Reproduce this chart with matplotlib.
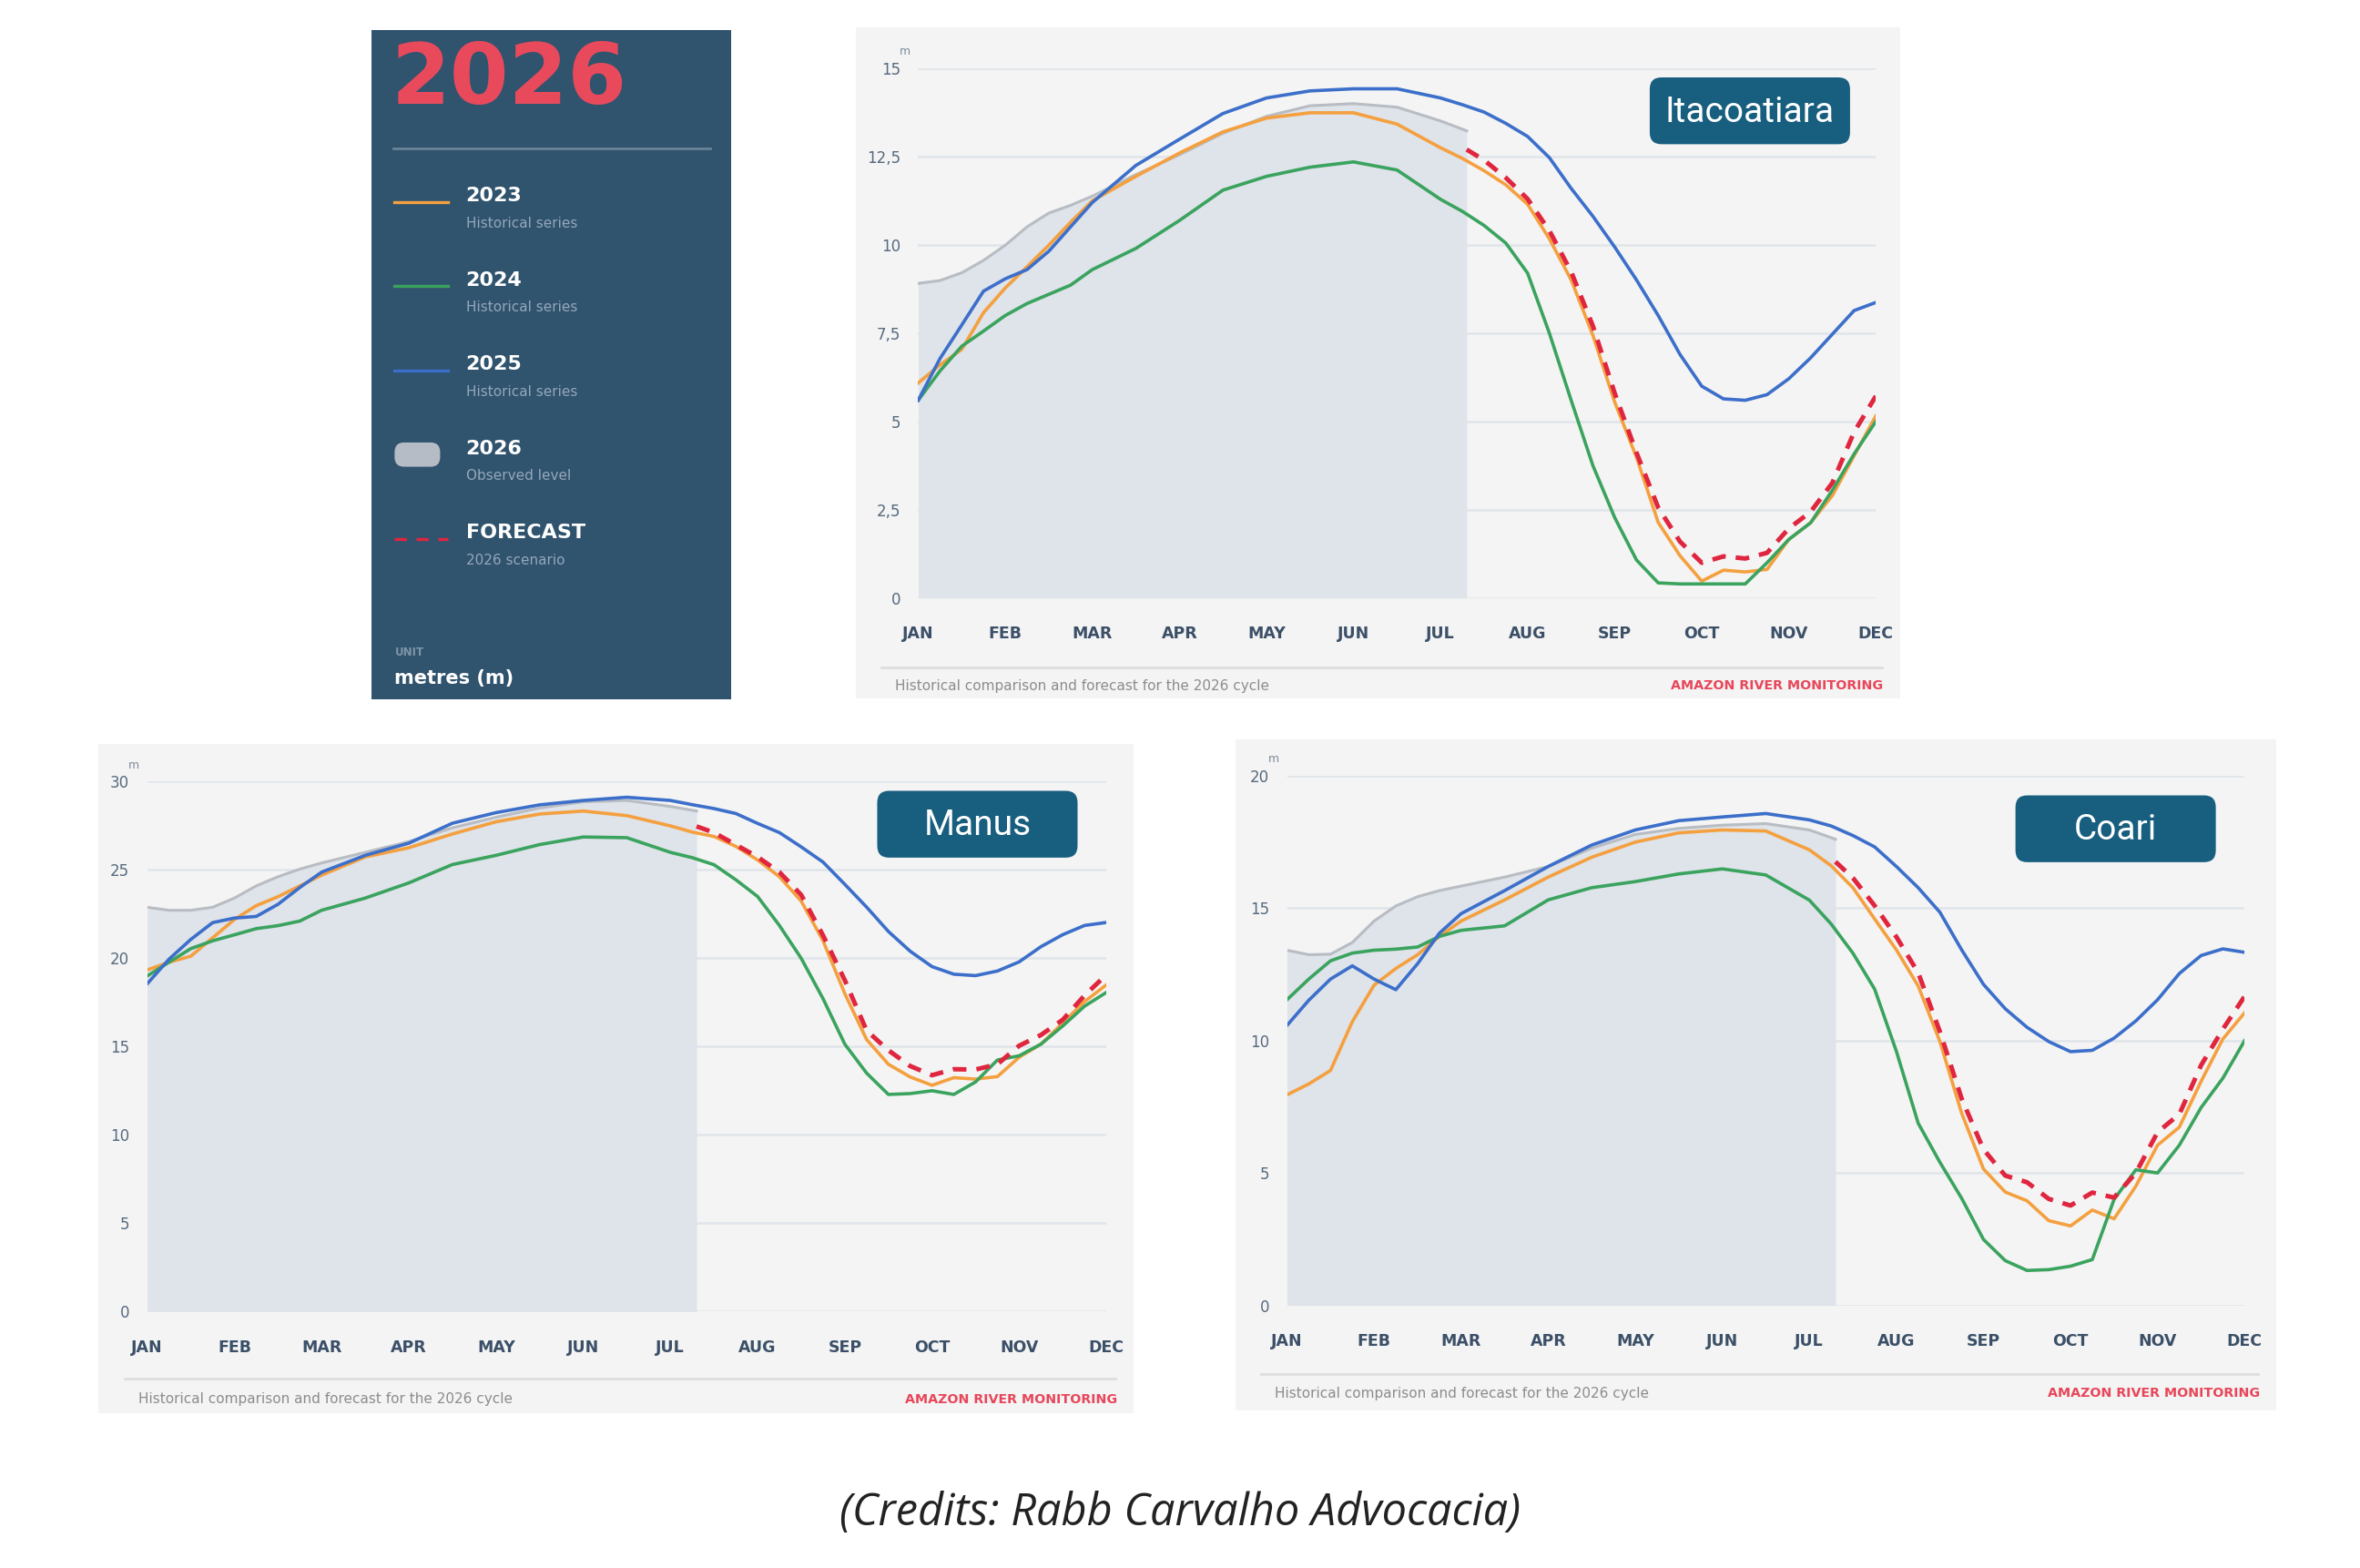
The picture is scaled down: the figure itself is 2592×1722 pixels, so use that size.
import matplotlib
matplotlib.use('Agg')
import matplotlib.pyplot as plt
from matplotlib.patches import Rectangle, FancyBboxPatch
from matplotlib.lines import Line2D

# ---- data (river level, metres; x = month index, JAN = 0) ----
MONTHS = ['JAN', 'FEB', 'MAR', 'APR', 'MAY', 'JUN', 'JUL', 'AUG', 'SEP', 'OCT', 'NOV', 'DEC']

X_LEFT = [0, 0.25, 0.5, 0.75, 1, 1.25, 1.5, 1.75, 2, 2.5, 3, 3.5, 4, 4.5, 5, 5.5, 6]
X_RIGHT = [6.5, 6.75, 7, 7.25, 7.5, 7.75, 8, 8.25, 8.5, 8.75, 9, 9.25, 9.5, 9.75, 10, 10.25, 10.5, 10.75, 11]
X_HIST = X_LEFT + [6.25] + X_RIGHT
X_OBS = X_LEFT + [6.3]
X_FC = [6.3] + X_RIGHT

# Itacoatiara
ita_2023 = [6.09, 6.6, 7.04, 8.08, 8.78, 9.38, 9.99, 10.64, 11.25, 11.94, 12.6, 13.2, 13.59, 13.74, 13.74, 13.42, 12.75,
            12.45,
            12.1, 11.7, 11.15, 10.17, 9.01, 7.44, 5.55, 3.99, 2.14, 1.2, 0.48, 0.79, 0.74, 0.81, 1.66, 2.13, 2.9, 4.03, 5.16]
ita_2024 = [5.6, 6.43, 7.13, 7.56, 8.0, 8.34, 8.6, 8.86, 9.3, 9.9, 10.69, 11.55, 11.94, 12.2, 12.35, 12.12, 11.29,
            10.95,
            10.55, 10.05, 9.2, 7.5, 5.6, 3.75, 2.28, 1.08, 0.43, 0.4, 0.4, 0.4, 0.4, 1.0, 1.66, 2.13, 3.05, 4.08, 5.0]
ita_2025 = [5.6, 6.78, 7.73, 8.69, 9.04, 9.3, 9.82, 10.51, 11.2, 12.25, 12.99, 13.72, 14.16, 14.36, 14.42, 14.42, 14.16,
            13.97,
            13.76, 13.44, 13.07, 12.47, 11.6, 10.81, 9.94, 9.01, 8.0, 6.9, 6.0, 5.64, 5.6, 5.76, 6.21, 6.8, 7.47, 8.14, 8.37]
ita_obs = [8.91, 8.99, 9.21, 9.56, 9.99, 10.51, 10.9, 11.12, 11.38, 11.99, 12.55, 13.16, 13.64, 13.94, 14.0, 13.9, 13.51, 13.23]
ita_fc = [12.7, 12.4, 11.9, 11.3, 10.4, 9.24, 7.7, 5.8, 4.12, 2.56, 1.6, 1.0, 1.18, 1.12, 1.28, 1.97, 2.44, 3.26, 4.7, 5.72]

# Manus
man_2023 = [19.34, 19.78, 20.12, 21.16, 22.2, 22.98, 23.49, 24.1, 24.71, 25.74, 26.26, 27.04, 27.73, 28.17, 28.34, 28.08, 27.5,
            27.15,
            26.9, 26.34, 25.57, 24.62, 23.24, 21.0, 18.0, 15.4, 14.0, 13.28, 12.81, 13.24, 13.16, 13.3, 14.4, 15.14, 16.34, 17.55, 18.5]
man_2024 = [19.0, 19.78, 20.55, 20.99, 21.33, 21.68, 21.85, 22.11, 22.72, 23.41, 24.27, 25.31, 25.83, 26.44, 26.87, 26.83, 26.0,
            25.7,
            25.3, 24.45, 23.5, 21.86, 20.0, 17.72, 15.14, 13.5, 12.29, 12.34, 12.5, 12.29, 13.0, 14.24, 14.48, 15.14, 16.17, 17.29, 18.07]
man_2025 = [18.56, 19.95, 21.07, 22.02, 22.28, 22.37, 23.06, 24.01, 24.88, 25.83, 26.52, 27.65, 28.25, 28.69, 28.94, 29.12, 28.94,
            28.7,
            28.48, 28.2, 27.64, 27.12, 26.31, 25.45, 24.19, 22.9, 21.52, 20.4, 19.53, 19.1, 19.02, 19.28, 19.8, 20.66, 21.34, 21.86, 22.03]
man_obs = [22.89, 22.72, 22.72, 22.89, 23.41, 24.1, 24.62, 25.05, 25.4, 26.0, 26.61, 27.39, 27.99, 28.51, 28.86, 28.94, 28.6, 28.34]
man_fc = [27.47, 27.12, 26.43, 25.74, 24.88, 23.59, 21.3, 18.76, 15.91, 14.79, 13.9, 13.38, 13.72, 13.7, 14.0, 15.05, 15.66, 16.52, 17.9, 19.07]

# Coari
coa_2023 = [7.95, 8.36, 8.87, 10.71, 12.09, 12.72, 13.24, 13.93, 14.51, 15.31, 16.17, 16.92, 17.49, 17.84, 17.95, 17.91, 17.2,
            16.6,
            15.77, 14.59, 13.42, 12.06, 9.96, 7.25, 5.15, 4.28, 3.95, 3.2, 3.0, 3.6, 3.27, 4.5, 6.05, 6.73, 8.46, 10.06, 11.05]
coa_2024 = [11.54, 12.32, 13.01, 13.3, 13.41, 13.45, 13.53, 13.93, 14.16, 14.33, 15.31, 15.77, 16.0, 16.29, 16.48, 16.25, 15.3,
            14.4,
            13.3, 11.94, 9.59, 6.88, 5.4, 4.04, 2.49, 1.69, 1.32, 1.35, 1.48, 1.73, 4.0, 5.12, 5.0, 6.05, 7.47, 8.58, 10.0]
coa_2025 = [10.57, 11.52, 12.32, 12.82, 12.32, 11.92, 12.9, 14.05, 14.79, 15.66, 16.57, 17.38, 17.95, 18.3, 18.44, 18.57, 18.33,
            18.1,
            17.74, 17.31, 16.57, 15.77, 14.84, 13.42, 12.12, 11.2, 10.5, 9.96, 9.58, 9.63, 10.09, 10.74, 11.54, 12.53, 13.21, 13.46, 13.33]
coa_obs = [13.41, 13.24, 13.26, 13.7, 14.51, 15.08, 15.43, 15.66, 15.83, 16.17, 16.57, 17.26, 17.78, 18.01, 18.13, 18.19, 17.95, 17.6]
coa_fc = [16.75, 16.14, 15.09, 13.91, 12.56, 10.33, 7.8, 5.89, 4.9, 4.65, 4.02, 3.77, 4.26, 4.07, 5.0, 6.54, 7.22, 9.07, 10.43, 11.67]

# colours
ORANGE = '#f4a03f'
GREEN = '#3aa35e'
BLUE = '#3c6fca'
RED = '#e0263f'
OBS_LINE = '#b8bcc3'
OBS_FILL = '#dfe3ea'
PANEL_BG = '#f4f4f4'
GRID = '#e0e5ea'
LEG_BG = '#30536e'
BOX_BG = '#175e7f'

fig = plt.figure(figsize=(25.92, 17.22), dpi=100)
fig.patch.set_facecolor('white')

# layout is worked out on a 1555 x 1033 grid (top-left origin)
W, H = 1555.0, 1033.0
def fx(x): return x / W
def fy(y): return 1 - y / H

def rect(x0, y0, x1, y1, color, z=-1):
    fig.add_artist(Rectangle((fx(x0), fy(y1)), (x1 - x0) / W, (y1 - y0) / H,
                             transform=fig.transFigure, facecolor=color, edgecolor='none', zorder=z))

def rbox(x0, y0, x1, y1, color, r=0.005, z=2):
    fig.add_artist(FancyBboxPatch((fx(x0), fy(y1)), (x1 - x0) / W, (y1 - y0) / H,
                                  boxstyle='round,pad=0,rounding_size=%f' % r, mutation_aspect=2592 / 1722.,
                                  transform=fig.transFigure, facecolor=color, edgecolor='none', zorder=z))

def hline(x0, x1, y, color, lw, ls='-', z=2):
    fig.add_artist(Line2D([fx(x0), fx(x1)], [fy(y), fy(y)], transform=fig.transFigure,
                          color=color, lw=lw, ls=ls, zorder=z))


def draw_chart(panel, plot, title, box, ymax, yticks, ylabels, d23, d24, d25, obs, fc, sep_y, foot_y):
    px0, py0, px1, py1 = panel
    rect(px0, py0, px1, py1, PANEL_BG)
    ax0, ay_top, ax1, ay_bot = plot
    ax = fig.add_axes([fx(ax0), fy(ay_bot), (ax1 - ax0) / W, (ay_bot - ay_top) / H])
    ax.set_facecolor('none')
    ax.set_xlim(0, 11)
    ax.set_ylim(0, ymax)
    for s in ax.spines.values():
        s.set_visible(False)
    ax.set_yticks(yticks)
    ax.set_yticklabels(ylabels, color='#566a7e', fontsize=12)
    ax.set_xticks(range(12))
    ax.set_xticklabels(MONTHS, color='#3b5068', fontsize=12.5, fontweight='bold')
    ax.tick_params(axis='both', length=0)
    ax.tick_params(axis='y', pad=14)
    ax.tick_params(axis='x', pad=22)
    ax.yaxis.grid(True, color=GRID, lw=1.8)
    ax.set_axisbelow(True)

    ax.fill_between(X_OBS, 0, obs, color=OBS_FILL, lw=0, zorder=1)
    ax.plot(X_OBS, obs, color=OBS_LINE, lw=2.2, zorder=2, solid_joinstyle='round')
    ax.plot(X_HIST, d23, color=ORANGE, lw=2.6, zorder=3, solid_joinstyle='round')
    ax.plot(X_HIST, d24, color=GREEN, lw=2.6, zorder=3, solid_joinstyle='round')
    ax.plot(X_HIST, d25, color=BLUE, lw=2.6, zorder=4, solid_joinstyle='round')
    ax.plot(X_FC, fc, color=RED, lw=3.6, ls=(0, (3, 2.2)), zorder=5)

    # unit mark above the y labels
    fig.text(fx(ax0 - 9), fy(ay_top - 11), 'm', fontsize=9, color='#7d8b99', ha='center', va='center')

    # name tag
    bx0, by0, bx1, by1 = box
    rbox(bx0, by0, bx1, by1, BOX_BG)
    fig.text(fx((bx0 + bx1) / 2), fy((by0 + by1) / 2 + 1), title, fontsize=28, color='white',
             family='Roboto', ha='center', va='center', zorder=3)

    # footer
    hline(px0 + 17, px1 - 12, sep_y, '#dedede', 2)
    fig.text(fx(px0 + 26), fy(foot_y), 'Historical comparison and forecast for the 2026 cycle',
             fontsize=11, color='#8c8c8c', ha='left', va='center')
    fig.text(fx(px1 - 11), fy(foot_y), 'AMAZON RIVER MONITORING', fontsize=10.3, color='#e8465a',
             fontweight='bold', ha='right', va='center')


draw_chart((564, 18, 1252, 460), (605, 45, 1236, 394), 'Itacoatiara', (1087, 51, 1219, 95),
           15, [0, 2.5, 5, 7.5, 10, 12.5, 15], ['0', '2,5', '5', '7,5', '10', '12,5', '15'],
           ita_2023, ita_2024, ita_2025, ita_obs, ita_fc, 440, 452)

draw_chart((65, 490, 747, 931), (97, 515, 729, 864), 'Manus', (578, 521, 710, 565),
           30, [0, 5, 10, 15, 20, 25, 30], ['0', '5', '10', '15', '20', '25', '30'],
           man_2023, man_2024, man_2025, man_obs, man_fc, 908, 922)

draw_chart((814, 487, 1500, 929), (848, 511, 1479, 860), 'Coari', (1328, 524, 1460, 568),
           20, [0, 5, 10, 15, 20], ['0', '5', '10', '15', '20'],
           coa_2023, coa_2024, coa_2025, coa_obs, coa_fc, 905, 918)

# ---- legend panel ----
rect(245, 20, 482, 461, LEG_BG)
fig.text(fx(258), fy(53), '2026', fontsize=67, fontweight='bold', color='#e84a5c', ha='left', va='center')
hline(259, 468, 98, '#6a8499', 2)

entries = [('2023', 'Historical series', 'line', ORANGE),
           ('2024', 'Historical series', 'line', GREEN),
           ('2025', 'Historical series', 'line', BLUE),
           ('2026', 'Observed level', 'box', '#b6bcc5'),
           ('FORECAST', '2026 scenario', 'dash', RED)]
for i, (head, sub, kind, col) in enumerate(entries):
    y = 133 + i * 55.5
    if kind == 'line':
        hline(260, 295, y, col, 2.4)
    elif kind == 'dash':
        hline(260, 295, y, col, 2.4, ls=(0, (4, 3.2)))
    else:
        rbox(260, y - 8, 290, y + 8, col, r=0.004)
    fig.text(fx(307), fy(y - 4), head, fontsize=16, fontweight='bold', color='white', ha='left', va='center')
    fig.text(fx(307), fy(y + 14), sub, fontsize=11, color='#95a7ba', ha='left', va='center')

fig.text(fx(260), fy(430), 'UNIT', fontsize=8.5, fontweight='bold', color='#7f94a8', ha='left', va='center')
fig.text(fx(260), fy(447), 'metres (m)', fontsize=15, fontweight='bold', color='white', ha='left', va='center')

# credits
fig.text(0.5, fy(997), '(Credits: Rabb Carvalho Advocacia)', fontsize=35, style='italic',
         family=['Open Sans', 'DejaVu Sans'], color='#222222', ha='center', va='center')

fig.savefig('out.png', dpi=100, facecolor='white')
